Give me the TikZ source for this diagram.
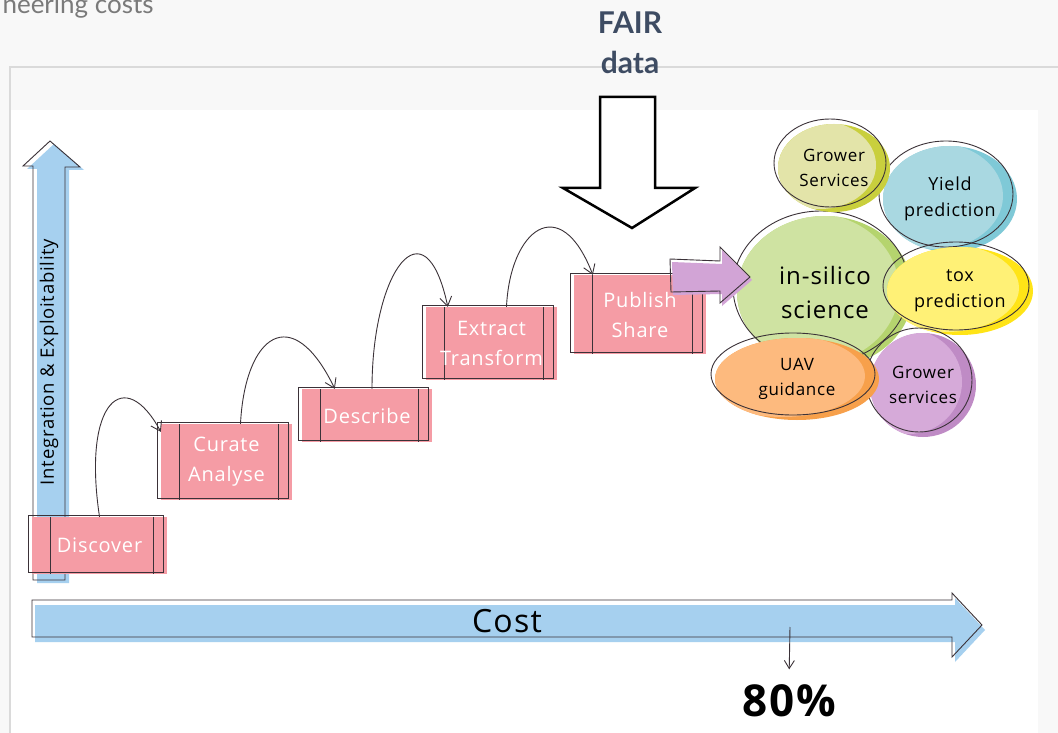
\documentclass[tikz,border=0pt]{standalone}
\usepackage{fontspec}
\setmainfont{Open Sans}
\newfontfamily\sketchfont{Open Sans}[LetterSpace=4]
\newfontfamily\slidefont{Lato}
\usetikzlibrary{arrows.meta,shapes.geometric}

\definecolor{pagegray}{HTML}{F8F8F8}
\definecolor{framegray}{HTML}{DADADA}
\definecolor{costgray}{HTML}{7A7A7A}
\definecolor{fairblue}{HTML}{3E4C63}
\definecolor{sketchline}{HTML}{3B3238}
\definecolor{boxpink}{HTML}{F59CA5}
\definecolor{axisblue}{HTML}{A6D0EF}
\definecolor{arrowpurple}{HTML}{D2A4D6}
\definecolor{greenlight}{HTML}{CFE3A2}
\definecolor{greendark}{HTML}{B5D46E}
\definecolor{olivelight}{HTML}{E3E4A9}
\definecolor{olivedark}{HTML}{C9CF3D}
\definecolor{cyanlight}{HTML}{A9D8E1}
\definecolor{cyandark}{HTML}{7FC9D7}
\definecolor{yellowlight}{HTML}{FFF176}
\definecolor{yellowdark}{HTML}{FFE417}
\definecolor{orangelight}{HTML}{FDBA7E}
\definecolor{orangedark}{HTML}{F7A04B}
\definecolor{lilaclight}{HTML}{D6AAD9}
\definecolor{lilacdark}{HTML}{BF8BC5}

\begin{document}
\begin{tikzpicture}[x=1pt,y=-1pt,
    stepbox/.style={rectangle, fill=boxpink, inner sep=0pt, text=white, align=center,
        font=\sketchfont\fontsize{20}{30}\selectfont,
        path picture={\draw[sketchline, line width=0.9pt]
            ([xshift=18pt]path picture bounding box.north west) -- ([xshift=18pt]path picture bounding box.south west)
            ([xshift=-14pt]path picture bounding box.north east) -- ([xshift=-14pt]path picture bounding box.south east);},
        postaction={draw=sketchline, line width=0.9pt, transform canvas={shift={(-4pt,2pt)}}}},
    bubble/.style n args={4}{ellipse, inner sep=0pt, minimum width=2*#1, minimum height=2*#2,
        fill=#4, align=center, font=\sketchfont\fontsize{17}{25}\selectfont,
        path picture={\fill[#3] ([xshift=-14pt,yshift=3pt]path picture bounding box.center) ellipse [x radius=#1, y radius=#2];},
        postaction={draw=sketchline, line width=0.9pt, transform canvas={shift={(-4pt,5pt)}}}},
    hop/.style={draw=sketchline, line width=0.9pt, -{Straight Barb[length=9pt,width=12pt]}},
    outline/.style={draw=sketchline, line width=0.9pt},
]
    \useasboundingbox (0,0) rectangle (1058,733);
    %Background
    \fill[pagegray] (0,0) rectangle (1058,733);
    \fill[white] (11,110) rectangle (1038,733);
    \draw[framegray, line width=2pt] (10,733) -- (10,67) -- (1058,67);
    \node[anchor=base west, text=costgray, font=\slidefont\fontsize{26}{30}\selectfont] (costs) at (-1,14) {neering costs};
    \node[align=center, text=fairblue, font=\slidefont\bfseries\fontsize{30}{40}\selectfont] (fair) at (630,43) {FAIR\\data};

    %FAIR arrow
    \draw[fill=white, line width=2.5pt] (600,97) -- (655,97) -- (655,188) -- (695,188) -- (632,228) -- (563,188) -- (600,188) -- cycle;

    %Axes
    \fill[axisblue, shift={(4,3)}] (33,580) -- (33,166) -- (23,166) -- (50,141) -- (80,167) -- (65,167) -- (65,580) -- cycle;
    \draw[outline] (33,580) -- (33,166) -- (23,166) -- (50,141) -- (80,167) -- (65,167) -- (65,580) -- cycle;
    \fill[axisblue, shift={(3,5)}] (32,600) -- (952,600) -- (952,593) -- (982,625) -- (952,657) -- (952,637) -- (32,637) -- cycle;
    \draw[outline] (32,600) -- (952,600) -- (952,593) -- (982,625) -- (952,657) -- (952,637) -- (32,637) -- cycle;
    \node[rotate=90, font=\sketchfont\fontsize{18.5}{20}\selectfont] (integration) at (49,362) {Integration \& Exploitability};
    \node[font=\sketchfont\fontsize{32}{34}\selectfont] (cost) at (507,621) {Cost};

    %Steps
    \node[stepbox, minimum width=135pt, minimum height=57pt] (discover) at (99.5,545.5) {Discover};
    \node[stepbox, minimum width=131pt, minimum height=76pt] (curate) at (226.5,462) {Curate\\Analyse};
    \node[stepbox, minimum width=130pt, minimum height=53pt] (describe) at (367,415.5) {Describe};
    \node[stepbox, minimum width=131pt, minimum height=73pt] (extract) at (491.5,343.5) {Extract\\Transform};
    \node[stepbox, minimum width=132pt, minimum height=79pt] (publish) at (640,314.5) {Publish\\Share};

    %Hops
    \draw[hop] (discover.north) .. controls (82,400) and (125,365) .. ([yshift=-8pt]curate.north west);
    \draw[hop] ([xshift=14pt]curate.north) .. controls (245,335) and (292,300) .. ([xshift=33pt]describe.north west);
    \draw[hop] ([xshift=5pt]describe.north) .. controls (372,270) and (425,200) .. ([xshift=22pt]extract.north west);
    \draw[hop] ([xshift=15pt]extract.north) .. controls (510,230) and (560,190) .. ([xshift=19pt]publish.north west);

    %Bubbles
    \node[bubble={88pt}{76pt}{greenlight}{greendark}, font=\sketchfont\fontsize{24}{34}\selectfont] (insilico) at (825,292) {in-silico\\science};
    \node[bubble={67pt}{53pt}{cyanlight}{cyandark}, font=\sketchfont\fontsize{18}{26}\selectfont] (yield) at (950,199) {Yield\\prediction};
    \node[bubble={56pt}{44pt}{olivelight}{olivedark}] (growertop) at (834,168) {Grower\\Services};
    \node[bubble={73pt}{44pt}{yellowlight}{yellowdark}, font=\sketchfont\fontsize{18}{26}\selectfont] (tox) at (960,291) {tox\\prediction};
    \node[bubble={53pt}{52pt}{lilaclight}{lilacdark}] (growerbot) at (923,385) {Grower\\services};
    \node[bubble={82pt}{41pt}{orangelight}{orangedark}] (uav) at (797,379) {UAV\\guidance};

    %Publish arrow
    \fill[arrowpurple, shift={(2,3)}] (670,259) -- (720,261) -- (720,247) -- (750,277) -- (720,303) -- (720,291) -- (671,292) -- cycle;
    \draw[outline] (670,259) -- (720,261) -- (720,247) -- (750,277) -- (720,303) -- (720,291) -- (671,292) -- cycle;

    %Share of cost
    \coordinate (mark) at (790,627);
    \node[font=\sketchfont\bfseries\fontsize{44}{48}\selectfont] (share) at (789,701) {80\%};
    \draw[outline, -{Straight Barb[length=8pt,width=10pt]}, shorten >=12pt] (mark) -- (share.north);
\end{tikzpicture}
\end{document}
